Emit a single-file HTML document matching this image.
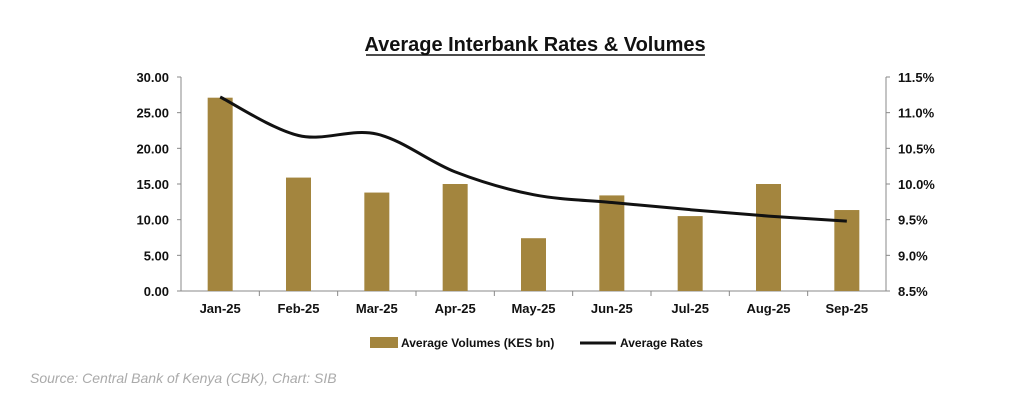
<!DOCTYPE html>
<html><head><meta charset="utf-8"><style>
body{margin:0;background:#fff;}
svg text{font-family:"Liberation Sans",sans-serif;}
</style></head><body>
<svg width="1024" height="407" viewBox="0 0 1024 407" xmlns="http://www.w3.org/2000/svg">
<text x="535" y="51" text-anchor="middle" font-size="20" font-weight="bold" fill="#111">Average Interbank Rates &amp; Volumes</text>
<line x1="366" y1="55" x2="705" y2="55" stroke="#111" stroke-width="1.5"/>
<g id="plot"></g>
<g>
<rect x="370" y="337" width="28" height="11" fill="#a3853e"/>
<text x="401" y="347" font-size="12" font-weight="bold" fill="#111">Average Volumes (KES bn)</text>
<line x1="580" y1="343" x2="616" y2="343" stroke="#111" stroke-width="3"/>
<text x="620" y="347" font-size="12" font-weight="bold" fill="#111">Average Rates</text>
</g>
<text x="30" y="383" font-size="14" font-style="italic" fill="#aaa">Source: Central Bank of Kenya (CBK), Chart: SIB</text>
</svg>
<script>
const categories=["Jan-25","Feb-25","Mar-25","Apr-25","May-25","Jun-25","Jul-25","Aug-25","Sep-25"];
const volumes=[27.1,15.9,13.8,15.0,7.4,13.4,10.5,15.0,11.35];
const rates=[11.22,10.68,10.70,10.17,9.85,9.74,9.64,9.55,9.48];
const leftTicks=["0.00","5.00","10.00","15.00","20.00","25.00","30.00"];
const rightTicks=["8.5%","9.0%","9.5%","10.0%","10.5%","11.0%","11.5%"];
const NS="http://www.w3.org/2000/svg";
const g=document.getElementById('plot');
const L=181,R=886,T=77,B=291;
const band=(R-L)/categories.length;
const xc=i=>L+band*(i+0.5);
const yL=v=>B-(v/30)*(B-T);
const yR=v=>B-((v-8.5)/3)*(B-T);
function mk(t,a){const e=document.createElementNS(NS,t);for(const k in a)e.setAttribute(k,a[k]);g.appendChild(e);return e;}
let ax=mk('line',{x1:L,y1:T,x2:L,y2:B,stroke:'#888'});


ax=mk('line',{x1:R,y1:T,x2:R,y2:B,stroke:'#888'});


ax=mk('line',{x1:L,y1:B,x2:R,y2:B,stroke:'#888'});


leftTicks.forEach((t,i)=>{const y=yL(parseFloat(t));
mk('line',{x1:L-4,y1:y,x2:L,y2:y,stroke:'#888'});
const e=mk('text',{x:L-12,y:y+5,'text-anchor':'end','font-size':13,'font-weight':'bold',fill:'#111'});e.textContent=t;

});
rightTicks.forEach((t,i)=>{const y=yR(parseFloat(t));
mk('line',{x1:R,y1:y,x2:R+4,y2:y,stroke:'#888'});
const e=mk('text',{x:R+12,y:y+5,'font-size':13,'font-weight':'bold',fill:'#111'});e.textContent=t;

});
for(let i=1;i<categories.length;i++){const x=L+band*i;mk('line',{x1:x,y1:B,x2:x,y2:B+5,stroke:'#888'});}
categories.forEach((c,i)=>{
const b=mk('rect',{x:xc(i)-12.5,y:yL(volumes[i]),width:25,height:B-yL(volumes[i]),fill:'#a3853e'});


const e=mk('text',{x:xc(i),y:B+22,'text-anchor':'middle','font-size':13,'font-weight':'bold',fill:'#111'});e.textContent=c;

});
const pts=rates.map((r,i)=>[xc(i),yR(r)]);
let d='M'+pts[0][0]+','+pts[0][1];
for(let i=0;i<pts.length-1;i++){const p0=pts[Math.max(0,i-1)],p1=pts[i],p2=pts[i+1],p3=pts[Math.min(pts.length-1,i+2)];const k=6;
d+=' C'+(p1[0]+(p2[0]-p0[0])/k)+','+(p1[1]+(p2[1]-p0[1])/k)+' '+(p2[0]-(p3[0]-p1[0])/k)+','+(p2[1]-(p3[1]-p1[1])/k)+' '+p2[0]+','+p2[1];}
const ln=mk('path',{d:d,fill:'none',stroke:'#111','stroke-width':3});


</script>
</body></html>
